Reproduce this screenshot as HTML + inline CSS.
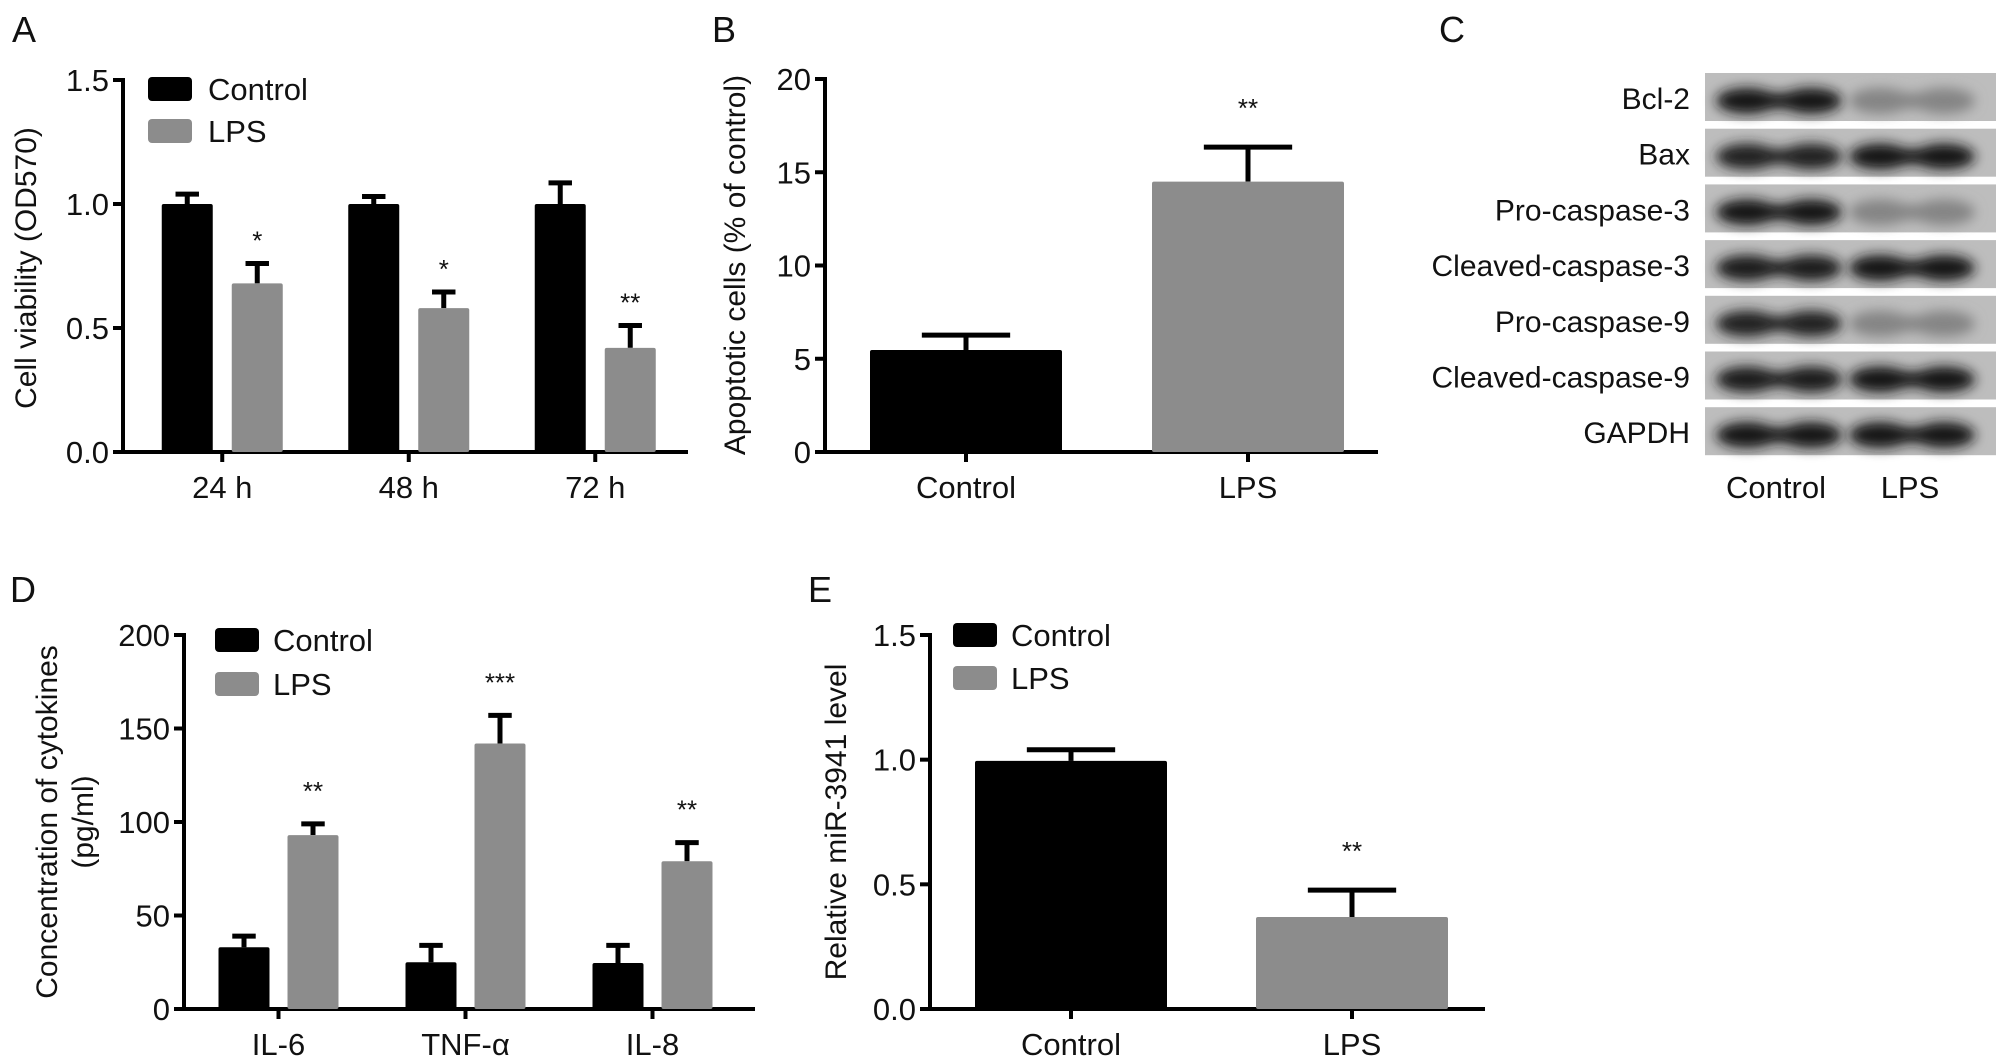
<!DOCTYPE html>
<html><head><meta charset="utf-8"><style>
html,body{margin:0;padding:0;background:#fff;}
svg{display:block;font-family:"Liberation Sans",Arial,sans-serif;}
</style></head><body>
<svg id="fig" width="2008" height="1064" viewBox="0 0 2008 1064" xmlns="http://www.w3.org/2000/svg">
<defs>
<filter id="blur" x="-30%" y="-80%" width="160%" height="260%"><feGaussianBlur stdDeviation="6"/></filter>
</defs>
</svg>
<script>
// ---- Panel A data ----
const aCategories = ["24 h","48 h","72 h"];
const aControl = [1.0, 1.0, 1.0];
const aControlErr = [0.04, 0.03, 0.085];
const aLPS = [0.68, 0.58, 0.42];
const aLPSErr = [0.08, 0.065, 0.09];
const aStars = ["*","*","**"];
const aTicks = [0, 0.5, 1.0, 1.5];
const aTickLabels = ["0.0","0.5","1.0","1.5"];
// ---- Panel B data ----
const bCategories = ["Control","LPS"];
const bValues = [5.47, 14.5];
const bErr = [0.8, 1.85];
const bStars = ["","**"];
const bTicks = [0,5,10,15,20];
const bTickLabels = ["0","5","10","15","20"];
// ---- Panel C data (band intensity 0..1) ----
const cProteins = ["Bcl-2","Bax","Pro-caspase-3","Cleaved-caspase-3","Pro-caspase-9","Cleaved-caspase-9","GAPDH"];
const cControlIntensity = [0.95,0.9,0.95,0.92,0.9,0.92,0.97];
const cLPSIntensity = [0.32,0.97,0.32,0.97,0.32,0.95,0.97];
const cLanes = ["Control","LPS"];
// ---- Panel D data ----
const dCategories = ["IL-6","TNF-\u03b1","IL-8"];
const dControl = [33, 25, 24.6];
const dControlErr = [6, 9, 9.4];
const dLPS = [93, 142, 79];
const dLPSErr = [6, 15, 10];
const dStars = ["**","***","**"];
const dTicks = [0,50,100,150,200];
const dTickLabels = ["0","50","100","150","200"];
// ---- Panel E data ----
const eCategories = ["Control","LPS"];
const eValues = [0.995, 0.369];
const eErr = [0.045, 0.108];
const eStars = ["","**"];
const eTicks = [0,0.5,1.0,1.5];
const eTickLabels = ["0.0","0.5","1.0","1.5"];

const svg = document.getElementById('fig');
const NS = "http://www.w3.org/2000/svg";
const TICK_FS = 31, LEG_FS = 31, TITLE_FS = 30;
function mk(tag, attrs, parent){
  const e = document.createElementNS(NS, tag);
  for (const k in attrs) e.setAttribute(k, attrs[k]);
  (parent||svg).appendChild(e);
  return e;
}
function txt(s, x, y, size, anchor, parent, extra){
  const t = mk('text', Object.assign({x:x, y:y, 'font-size':size, 'text-anchor':anchor||'middle', fill:'#111'}, extra||{}), parent);
  t.textContent = s;
  return t;
}
const BLACK = "#000", GRAY = "#8c8c8c";

function drawAxes(g, ax){
  let l = mk('line',{x1:ax.x0,y1:ax.yTop-2,x2:ax.x0,y2:ax.yBot+2,stroke:'#000','stroke-width':4},g);
  
  
  l = mk('line',{x1:ax.x0-2,y1:ax.yBot,x2:ax.xEnd,y2:ax.yBot,stroke:'#000','stroke-width':4},g);
  
  
  ax.ticks.forEach((v,i)=>{
    const y = ax.sy(v);
    const tk = mk('line',{x1:ax.x0-10,y1:y,x2:ax.x0,y2:y,stroke:'#000','stroke-width':4},g);
    
    
    const t = txt(ax.tickLabels[i], ax.x0-14, y+11, TICK_FS, 'end', g);
    
    
  });
}
function bar(g, x, w, v, err, color, ax, name){
  const y = ax.sy(v), yb = ax.sy(0);
  const ye = ax.sy(v+err);
  const cw = w*0.46;
  const el = mk('line',{x1:x+w/2,y1:y,x2:x+w/2,y2:ye,stroke:'#000','stroke-width':5},g);
  
  
  const cap = mk('line',{x1:x+w/2-cw/2,y1:ye,x2:x+w/2+cw/2,y2:ye,stroke:'#000','stroke-width':5},g);
  
  
  const r = mk('rect',{x:x,y:y,width:w,height:yb-y,fill:color,rx:2},g);
  
  
  return ye;
}
function legend(g, x, y1, y2, tx){
  const items = [["Control",BLACK,y1],["LPS",GRAY,y2]];
  items.forEach(it=>{
    const r = mk('rect',{x:x,y:it[2],width:44,height:24,rx:4,fill:it[1]},g);
    
    
    const t = txt(it[0], tx, it[2]+23, LEG_FS, 'start', g);
    
    
  });
}
function panelLetter(s,x,y){
  const t = txt(s,x,y,36,'start');
  
  
}
function yTitle(g, lines, cx, cy){
  lines.forEach((s,i)=>{
    const x = cx[i];
    const t = txt(s, 0, 0, TITLE_FS, 'middle', g, {transform:`translate(${x},${cy}) rotate(-90)`});
    
    
  });
}
function scale(d0,d1,r0,r1){ return v => r0 + (v-d0)/(d1-d0)*(r1-r0); }

// ---------- Panel A ----------
(function(){
  const g = mk('g',{});
  
  
  panelLetter('A',12,42);
  const ax = {x0:123, xEnd:688, yTop:80, yBot:452, sy:scale(0,1.5,452,80), ticks:aTicks, tickLabels:aTickLabels};
  drawAxes(g, ax);
  const groupW = 186.5, start = 129, bw = 51, gap = 19;
  aCategories.forEach((c,i)=>{
    const cx = start + groupW*(i+0.5);
    const xc = cx - gap/2 - bw, xl = cx + gap/2;
    bar(g, xc, bw, aControl[i], aControlErr[i], BLACK, ax, 'bar-control-'+i);
    const ye = bar(g, xl, bw, aLPS[i], aLPSErr[i], GRAY, ax, 'bar-lps-'+i);
    const s = txt(aStars[i], xl+bw/2, ye-14, 26, 'middle', g);
    
    
    const tk = mk('line',{x1:cx,y1:452,x2:cx,y2:462,stroke:'#000','stroke-width':4},g);
    
    
    const t = txt(c, cx, 498, TICK_FS, 'middle', g);
    
    
  });
  legend(g,148,77,119,208);
  yTitle(g,["Cell viability (OD570)"],[36],268);
})();

// ---------- Panel B ----------
(function(){
  const g = mk('g',{});
  
  
  panelLetter('B',712,42);
  const ax = {x0:825, xEnd:1378, yTop:79, yBot:452, sy:scale(0,20,452,79), ticks:bTicks, tickLabels:bTickLabels};
  drawAxes(g, ax);
  const centers = [966,1248], bw = 192, colors=[BLACK,GRAY];
  bCategories.forEach((c,i)=>{
    const ye = bar(g, centers[i]-bw/2, bw, bValues[i], bErr[i], colors[i], ax, 'bar-'+c.toLowerCase());
    if (bStars[i]){
      const s = txt(bStars[i], centers[i], ye-30, 26, 'middle', g);
      
      
    }
    const tk = mk('line',{x1:centers[i],y1:452,x2:centers[i],y2:462,stroke:'#000','stroke-width':4},g);
    
    
    const t = txt(c, centers[i], 498, TICK_FS, 'middle', g);
    
    
  });
  yTitle(g,["Apoptotic cells (% of control)"],[745],265);
})();

// ---------- Panel C ----------
(function(){
  const g = mk('g',{});
  
  
  panelLetter('C',1439,42);
  const rowTop = 73, rowH = 48, rowStep = 55.7, bx = 1705, bw2 = 291;
  cProteins.forEach((p,i)=>{
    const y = rowTop + i*rowStep;
    const r = mk('rect',{x:bx,y:y,width:bw2,height:rowH,fill:'#bdbdbd'},g);
    
    
    const t = txt(p, 1690, y+36, 30, 'end', g);
    
    
    [[1715,cControlIntensity[i]],[1848,cLPSIntensity[i]]].forEach((L,j)=>{
      const shade = Math.round(189 - 175*L[1]);
      const col = `rgb(${shade},${shade},${shade})`;
      const bg = mk('g',{filter:'url(#blur)'},g);
      
      
      const cy = y + rowH*0.58;
      mk('ellipse',{cx:L[0]+32,cy:cy,rx:31,ry:13,fill:col},bg);
      mk('ellipse',{cx:L[0]+96,cy:cy,rx:31,ry:13,fill:col},bg);
      mk('rect',{x:L[0]+30,y:cy-8,width:68,height:16,fill:col},bg);
    });
  });
  cLanes.forEach((c,j)=>{
    const t = txt(c, [1776,1910][j], 498, TICK_FS, 'middle', g);
    
    
  });
})();

// ---------- Panel D ----------
(function(){
  const g = mk('g',{});
  
  
  panelLetter('D',10,602);
  const ax = {x0:184, xEnd:755, yTop:635, yBot:1009, sy:scale(0,200,1009,635), ticks:dTicks, tickLabels:dTickLabels};
  drawAxes(g, ax);
  const groupW = 187, start = 185, bw = 51, gap = 18;
  dCategories.forEach((c,i)=>{
    const cx = start + groupW*(i+0.5);
    const xc = cx - gap/2 - bw, xl = cx + gap/2;
    bar(g, xc, bw, dControl[i], dControlErr[i], BLACK, ax, 'bar-control-'+i);
    const ye = bar(g, xl, bw, dLPS[i], dLPSErr[i], GRAY, ax, 'bar-lps-'+i);
    const s = txt(dStars[i], xl+bw/2, ye-24, 26, 'middle', g);
    
    
    const tk = mk('line',{x1:cx,y1:1009,x2:cx,y2:1019,stroke:'#000','stroke-width':4},g);
    
    
    const t = txt(c, cx, 1055, TICK_FS, 'middle', g);
    
    
  });
  legend(g,215,628,672,273);
  yTitle(g,["Concentration of cytokines","(pg/ml)"],[57,93],822);
})();

// ---------- Panel E ----------
(function(){
  const g = mk('g',{});
  
  
  panelLetter('E',808,602);
  const ax = {x0:930, xEnd:1485, yTop:635, yBot:1009, sy:scale(0,1.5,1009,635), ticks:eTicks, tickLabels:eTickLabels};
  drawAxes(g, ax);
  const centers = [1071,1352], bw = 192, colors=[BLACK,GRAY];
  eCategories.forEach((c,i)=>{
    const ye = bar(g, centers[i]-bw/2, bw, eValues[i], eErr[i], colors[i], ax, 'bar-'+c.toLowerCase());
    if (eStars[i]){
      const s = txt(eStars[i], centers[i], ye-30, 26, 'middle', g);
      
      
    }
    const tk = mk('line',{x1:centers[i],y1:1009,x2:centers[i],y2:1019,stroke:'#000','stroke-width':4},g);
    
    
    const t = txt(c, centers[i], 1055, TICK_FS, 'middle', g);
    
    
  });
  legend(g,953,623,666,1011);
  yTitle(g,["Relative miR-3941 level"],[846],822);
})();
</script>
</body></html>
